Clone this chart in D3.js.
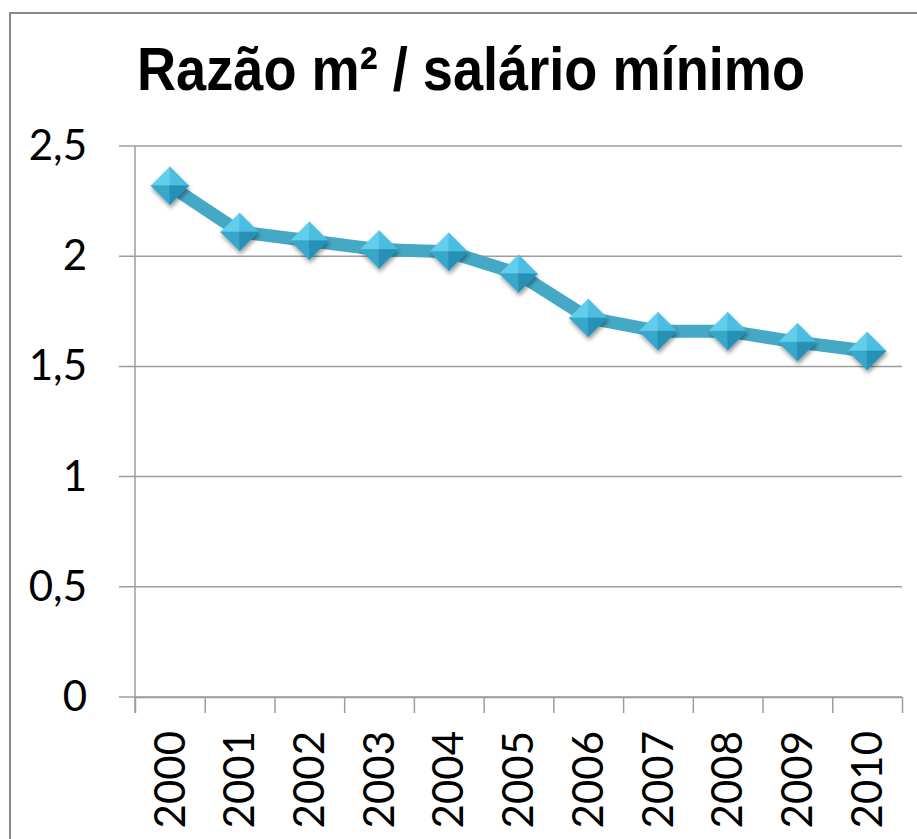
<!DOCTYPE html>
<html>
<head>
<meta charset="utf-8">
<script src="https://cdn.jsdelivr.net/npm/d3@7"></script>
<style>
  html, body { margin: 0; padding: 0; background: #fff; }
  svg { display: block; }
</style>
</head>
<body>
<div id="chart"></div>
<script>
const title = 'Razão m² / salário mínimo';
const years = ['2000', '2001', '2002', '2003', '2004', '2005', '2006', '2007', '2008', '2009', '2010'];
const ratios = [2.32, 2.11, 2.07, 2.03, 2.02, 1.92, 1.72, 1.66, 1.66, 1.61, 1.57];
const yTicks = [0, 0.5, 1, 1.5, 2, 2.5];

const W = 917, H = 839;
const margin = { top: 146, right: 15, bottom: 142, left: 135 };
const width = W - margin.left - margin.right;
const height = H - margin.top - margin.bottom;

const svg = d3.select('#chart')
  .append('svg')
  .attr('width', W)
  .attr('height', H);

// soft shadow under the diamonds
const defs = svg.append('defs');
const shadow = defs.append('filter')
  .attr('id', 'shadow')
  .attr('x', '-50%').attr('y', '-50%')
  .attr('width', '200%').attr('height', '200%');
shadow.append('feDropShadow')
  .attr('dx', 1).attr('dy', 3)
  .attr('stdDeviation', 2)
  .attr('flood-color', '#000')
  .attr('flood-opacity', 0.4);

// chart frame (right and bottom edges are cut off in the reference)
svg.append('rect')
  .attr('x', 10).attr('y', 13)
  .attr('width', 1000).attr('height', 1000)
  .attr('fill', 'none')
  .attr('stroke', '#8a8a8a')
  .attr('stroke-width', 2);

svg.append('text')
  .attr('x', 471)
  .attr('y', 90)
  .attr('text-anchor', 'middle')
  .attr('font-family', '"Liberation Sans", Arial, sans-serif')
  .attr('font-weight', 'bold')
  .attr('font-size', 61)
  .attr('textLength', 668)
  .attr('lengthAdjust', 'spacingAndGlyphs')
  .attr('fill', '#000')
  .text(title);

const g = svg.append('g')
  .attr('transform', `translate(${margin.left},${margin.top})`);

const y = d3.scaleLinear().domain([0, 2.5]).range([height, 0]);
const x = d3.scaleBand().domain(years).range([0, width]);
const xEdge = d3.scaleLinear().domain([0, years.length]).range([0, width]);

const fmt = d => String(d).replace('.', ',');
const labelFont = 'Lato, "Open Sans", sans-serif';

// gridlines
g.append('g')
  .selectAll('line')
  .data(yTicks)
  .join('line')
  .attr('x1', -16).attr('x2', width)
  .attr('y1', d => y(d)).attr('y2', d => y(d))
  .attr('stroke', '#9d9d9d')
  .attr('stroke-width', 1.5);

// y axis
const yAxis = g.append('g')
  .call(d3.axisLeft(y).tickValues(yTicks).tickSize(16).tickSizeOuter(0).tickPadding(32).tickFormat(fmt));
yAxis.select('.domain').remove();
yAxis.selectAll('.tick line').remove();
yAxis.selectAll('text')
  .attr('font-family', labelFont)
  .attr('font-size', 42)
  .attr('fill', '#000');

g.append('line')
  .attr('x1', 0).attr('x2', 0)
  .attr('y1', 0).attr('y2', height + 16)
  .attr('stroke', '#9d9d9d')
  .attr('stroke-width', 1.5);

// x axis tick marks at category edges
const xTicks = g.append('g')
  .attr('transform', `translate(0,${height})`)
  .call(d3.axisBottom(xEdge).tickValues(d3.range(years.length + 1)).tickSize(16).tickSizeOuter(0).tickFormat(''));
xTicks.select('.domain').attr('stroke', '#9d9d9d').attr('stroke-width', 1.5);
xTicks.selectAll('.tick line').attr('stroke', '#9d9d9d').attr('stroke-width', 1.5);

// x labels, rotated
const xLabels = g.append('g')
  .attr('transform', `translate(0,${height})`)
  .call(d3.axisBottom(x).tickSize(0).tickPadding(0));
xLabels.select('.domain').remove();
xLabels.selectAll('text')
  .attr('font-family', labelFont)
  .attr('font-size', 42)
  .attr('fill', '#000')
  .attr('text-anchor', 'end')
  .attr('dy', '0.35em')
  .attr('transform', 'translate(0,34) rotate(-90)');

// series line
const line = d3.line()
  .x((d, i) => x(years[i]) + x.bandwidth() / 2)
  .y(d => y(d));

g.append('path')
  .datum(ratios)
  .attr('fill', 'none')
  .attr('stroke', '#45a9c6')
  .attr('stroke-width', 13)
  .attr('stroke-linejoin', 'round')
  .attr('d', line);

// bevelled diamond markers
const r = 19;
const facets = [
  { pts: [[-r, 0], [0, -r], [0, 0]], fill: '#64cdec' },
  { pts: [[0, -r], [r, 0], [0, 0]], fill: '#4bbde0' },
  { pts: [[-r, 0], [0, 0], [0, r]], fill: '#37a7ca' },
  { pts: [[0, 0], [r, 0], [0, r]], fill: '#2690b5' }
];

const markers = g.append('g')
  .selectAll('g')
  .data(ratios)
  .join('g')
  .attr('transform', (d, i) => `translate(${x(years[i]) + x.bandwidth() / 2},${y(d)})`)
  .attr('filter', 'url(#shadow)');

markers.selectAll('path')
  .data(facets)
  .join('path')
  .attr('d', f => 'M' + f.pts.map(p => p.join(',')).join('L') + 'Z')
  .attr('fill', f => f.fill)
  .attr('stroke', f => f.fill)
  .attr('stroke-width', 0.5);
</script>
</body>
</html>
